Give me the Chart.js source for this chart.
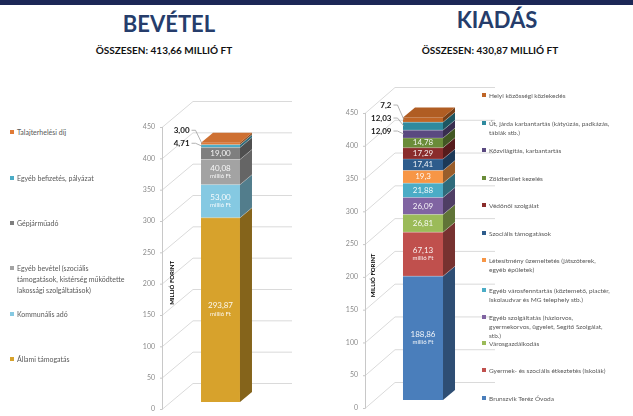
<!DOCTYPE html>
<html>
<head>
<meta charset="utf-8">
<script src="https://cdn.jsdelivr.net/npm/chart.js@4.4.0/dist/chart.umd.min.js"></script>
<style>
body { margin: 0; width: 633px; height: 416px; background: #fff; position: relative; overflow: hidden; font-family: Lato, "Open Sans", sans-serif; }
.topbar { position: absolute; left: 0; top: 0; width: 633px; height: 5px; background: #1c2756; }
.title { position: absolute; font-weight: bold; color: #263d6b; font-size: 22px; line-height: 1; transform: translateX(-50%); white-space: nowrap; }
.sub { position: absolute; font-weight: bold; color: #111; font-size: 10px; line-height: 1; transform: translateX(-50%); white-space: nowrap; }
canvas { position: absolute; }
.leg { position: absolute; display: flex; align-items: flex-start; color: #595959; white-space: pre-line; }
.leg i { display: inline-block; flex: none; width: 4px; height: 4px; margin-right: 3px; }
</style>
</head>
<body>
<div class="topbar"></div>
<div class="title" style="left:169px; top:13px">BEVÉTEL</div>
<div class="sub" style="left:164px; top:45px">ÖSSZESEN: 413,66 MILLIÓ FT</div>
<div class="title" style="left:497px; top:9px">KIADÁS</div>
<div class="sub" style="left:490px; top:45px">ÖSSZESEN: 430,87 MILLIÓ FT</div>

<canvas id="bevetel" width="190" height="356" style="left:120px; top:60px"></canvas>
<canvas id="kiadas" width="180" height="376" style="left:320px; top:40px"></canvas>

<script>
// data, bottom segment first
const yTicks = [0, 50, 100, 150, 200, 250, 300, 350, 400, 450];

const bevLabels = [
    'Állami támogatás',
    'Kommunális adó',
    'Egyéb bevétel (szociális\ntámogatások, kistérség működtette\nlakossági szolgáltatások)',
    'Gépjárműadó',
    'Egyéb befizetés, pályázat',
    'Talajterhelési díj'
];
const bevValues = [293.87, 53.00, 40.08, 19.00, 4.71, 3.00];
const bevColors = ['#d7a22c', '#85c9e2', '#a3a3a3', '#7f7f7f', '#4bacc6', '#e07a36'];

const kiaLabels = [
    'Brunszvik Teréz Óvoda',
    'Gyermek- és szociális étkeztetés (Iskolák)',
    'Városgazdálkodás',
    'Egyéb szolgáltatás (háziorvos,\ngyermekorvos, ügyelet, Segítő Szolgálat,\nstb.)',
    'Egyéb városfenntartás (köztemető, piactér,\nIskolaudvar és MG telephely stb.)',
    'Létesítmény üzemeltetés (játszóterek,\negyéb épületek)',
    'Szociális támogatások',
    'Védőnői szolgálat',
    'Zöldterület kezelés',
    'Közvilágítás, karbantartás',
    'Út, járda karbantartás (kátyúzás, padkázás,\ntáblák stb.)',
    'Helyi közösségi közlekedés'
];
const kiaValues = [188.86, 67.13, 26.81, 26.09, 21.88, 19.3, 17.41, 17.29, 14.78, 12.09, 12.03, 7.2];
const kiaColors = ['#4a7ebb', '#c0504d', '#9bbb59', '#8064a2', '#4bacc6', '#f79646',
                   '#2e5c8c', '#8a2c2b', '#6a8c39', '#5a4980', '#2f8a9e', '#bf6526'];

// legend line centres (page y), top item first
const bevLegendY = [132, 178, 223, 268, 314, 359];
const kiaLegendY = [95, 123, 150, 178, 205, 233, 260, 290, 317, 343, 370, 398];

function shade(hex, f) {
    const n = parseInt(hex.slice(1), 16);
    const r = Math.round(((n >> 16) & 255) * f);
    const g = Math.round(((n >> 8) & 255) * f);
    const b = Math.round((n & 255) * f);
    return 'rgb(' + r + ',' + g + ',' + b + ')';
}

// grid walls, side/top faces and value labels
const pseudo3d = {
    id: 'pseudo3d',
    beforeDatasetsDraw(chart, args, o) {
        const ctx = chart.ctx;
        const y = chart.scales.y;
        const ax = chart.chartArea.left;
        ctx.save();
        ctx.strokeStyle = '#dadada';
        ctx.lineWidth = 1;
        y.ticks.forEach(t => {
            const py = y.getPixelForValue(t.value);
            ctx.beginPath();
            ctx.moveTo(ax, py + o.labelOffset + 0.5);
            ctx.lineTo(ax + o.backDx, py - o.backDy + 0.5);
            ctx.lineTo(o.gridEnd, py - o.backDy + 0.5);
            ctx.stroke();
        });
        ctx.strokeStyle = '#c8c8c8';
        ctx.beginPath();
        ctx.moveTo(ax + 0.5, y.getPixelForValue(y.max) + o.labelOffset);
        ctx.lineTo(ax + 0.5, y.getPixelForValue(y.min) + o.labelOffset);
        y.ticks.forEach(t => {
            const py = y.getPixelForValue(t.value) + o.labelOffset + 0.5;
            ctx.moveTo(ax - 2, py);
            ctx.lineTo(ax + 0.5, py);
        });
        ctx.stroke();
        ctx.translate(ax + o.titleDx, y.getPixelForValue(o.titleValue));
        ctx.rotate(-Math.PI / 2);
        ctx.font = 'bold 6px Lato';
        ctx.fillStyle = '#000';
        ctx.textAlign = 'center';
        ctx.textBaseline = 'middle';
        ctx.fillText('MILLIÓ FORINT', 0, 0);
        ctx.restore();
    },
    afterDatasetsDraw(chart, args, o) {
        const ctx = chart.ctx;
        const metas = chart.getSortedVisibleDatasetMetas();
        const outside = [];
        let topY = 0;
        ctx.save();
        metas.forEach((m, i) => {
            const bar = m.data[0];
            const p = bar.getProps(['x', 'y', 'base', 'width'], true);
            const l = p.x - p.width / 2, r = p.x + p.width / 2;
            const col = chart.data.datasets[m.index].backgroundColor;
            ctx.fillStyle = shade(col, 0.62);
            ctx.beginPath();
            ctx.moveTo(r, p.base);
            ctx.lineTo(r + o.dx, p.base - o.dy);
            ctx.lineTo(r + o.dx, p.y - o.dy);
            ctx.lineTo(r, p.y);
            ctx.closePath();
            ctx.fill();
            if (i > 0) {
                ctx.strokeStyle = 'rgba(255,255,255,0.35)';
                ctx.lineWidth = 0.7;
                ctx.beginPath();
                ctx.moveTo(l, p.base);
                ctx.lineTo(r, p.base);
                ctx.lineTo(r + o.dx, p.base - o.dy);
                ctx.stroke();
            }
            if (i === metas.length - 1) {
                topY = p.y;
                ctx.fillStyle = shade(col, 0.92);
                ctx.beginPath();
                ctx.moveTo(l, p.y);
                ctx.lineTo(l + o.dx, p.y - o.dy);
                ctx.lineTo(r + o.dx, p.y - o.dy);
                ctx.lineTo(r, p.y);
                ctx.closePath();
                ctx.fill();
            }
            const v = chart.data.datasets[m.index].data[0];
            const txt = o.fixed ? v.toFixed(o.fixed).replace('.', ',') : String(v).replace('.', ',');
            const h = p.base - p.y;
            const cy = (p.base + p.y) / 2;
            if (h >= 9) {
                ctx.fillStyle = 'rgba(255,255,255,0.92)';
                ctx.textAlign = 'center';
                ctx.textBaseline = 'middle';
                if (h > 22) {
                    ctx.font = '8px Lato';
                    ctx.fillText(txt, p.x, cy - 4);
                    ctx.font = '6px Lato';
                    ctx.fillText('millió Ft', p.x, cy + 4);
                } else {
                    ctx.font = '8px Lato';
                    ctx.fillText(txt, p.x, cy);
                }
            } else {
                outside.unshift({ txt, cy, l });
            }
        });
        outside.forEach((it, k) => {
            const ly = topY - 12.5 + k * 13;
            const tr = it.l - 11.5;
            ctx.font = 'bold 8px Lato';
            ctx.fillStyle = '#1a1a1a';
            ctx.textAlign = 'right';
            ctx.textBaseline = 'middle';
            ctx.fillText(it.txt, tr, ly);
            ctx.strokeStyle = '#a0a0a0';
            ctx.lineWidth = 0.8;
            ctx.beginPath();
            ctx.moveTo(tr + 2, ly);
            ctx.lineTo(tr + 6, ly);
            ctx.lineTo(it.l + 1, it.cy);
            ctx.stroke();
        });
        ctx.restore();
    }
};

function makeChart(id, labels, values, colors, cfg) {
    return new Chart(document.getElementById(id), {
        type: 'bar',
        data: {
            labels: [''],
            datasets: values.map((v, i) => ({
                label: labels[i],
                data: [v],
                backgroundColor: colors[i],
                borderWidth: 0,
                barPercentage: cfg.barPct,
                categoryPercentage: 1,
                stack: 's'
            }))
        },
        options: {
            responsive: false,
            animation: false,
            layout: { padding: cfg.padding },
            plugins: { legend: { display: false }, tooltip: { enabled: false }, pseudo3d: cfg.p3d },
            scales: {
                x: { display: false, stacked: true },
                y: {
                    stacked: true,
                    min: 0,
                    max: 450,
                    afterBuildTicks: s => { s.ticks = yTicks.map(v => ({ value: v })); },
                    afterFit: s => { s.width = cfg.axisWidth; },
                    grid: { display: false, drawTicks: false },
                    border: { display: false },
                    ticks: { padding: 7, labelOffset: cfg.p3d.labelOffset, color: '#8c8c8c', font: { family: 'Lato', size: 7 } }
                }
            }
        },
        plugins: [pseudo3d]
    });
}

function makeLegend(labels, colors, ys, left, size, lh) {
    for (let i = labels.length - 1; i >= 0; i--) {
        const k = labels.length - 1 - i;
        const d = document.createElement('div');
        d.className = 'leg';
        d.style.left = left + 'px';
        d.style.top = (ys[k] - lh / 2) + 'px';
        d.style.fontSize = size + 'px';
        d.style.lineHeight = lh + 'px';
        const m = document.createElement('i');
        m.style.background = colors[i];
        m.style.marginTop = ((lh - 4) / 2) + 'px';
        const t = document.createElement('span');
        t.innerText = labels[i];
        d.appendChild(m);
        d.appendChild(t);
        document.body.appendChild(d);
    }
}

makeChart('bevetel', bevLabels, bevValues, bevColors, {
    barPct: 0.333,
    axisWidth: 42,
    padding: { top: 60, bottom: 14, left: 0, right: 31 },
    p3d: { dx: 12, dy: 10, labelOffset: 7, backDx: 31, backDy: 19, gridEnd: 172, titleDx: 10, titleValue: 190, fixed: 2 }
});
makeChart('kiadas', kiaLabels, kiaValues, kiaColors, {
    barPct: 0.345,
    axisWidth: 45,
    padding: { top: 65, bottom: 16, left: 0, right: 19 },
    p3d: { dx: 12, dy: 10, labelOffset: 8, backDx: 30, backDy: 18, gridEnd: 175, titleDx: 8, titleValue: 190, fixed: 0 }
});

makeLegend(bevLabels, bevColors, bevLegendY, 10, 7, 11);
makeLegend(kiaLabels, kiaColors, kiaLegendY, 482, 6.5, 9);
</script>
</body>
</html>
